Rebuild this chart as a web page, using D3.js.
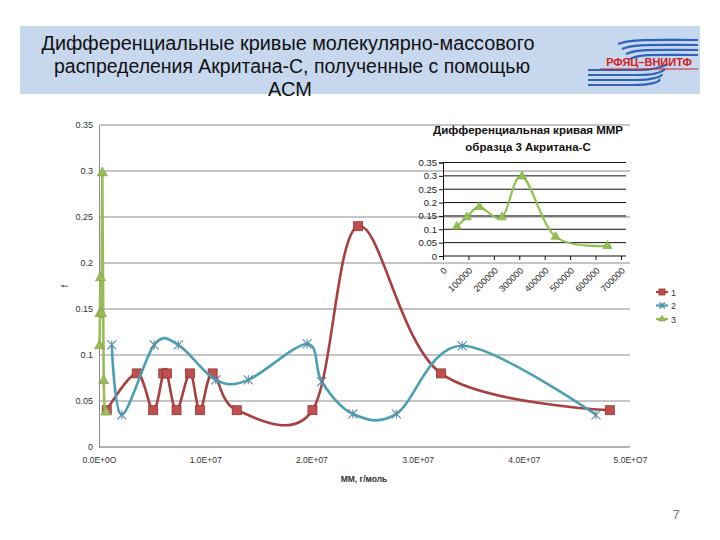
<!DOCTYPE html>
<html>
<head>
<meta charset="utf-8">
<script src="https://cdn.jsdelivr.net/npm/d3@7"></script>
<style>
  body { margin: 0; background: #fff; }
  text { font-family: "Liberation Sans", Arial, sans-serif; }
</style>
</head>
<body>
<div id="canvas"></div>
<script>
// series 1 (red squares)
const s1x = [0.73e6, 3.55e6, 5.1e6, 6.05e6, 6.4e6, 7.3e6, 8.57e6, 9.5e6, 10.7e6, 12.97e6, 20.1e6, 24.4e6, 32.2e6, 48.1e6];
const s1y = [0.04, 0.08, 0.04, 0.08, 0.08, 0.04, 0.08, 0.04, 0.08, 0.04, 0.04, 0.24, 0.08, 0.04];
// series 2 (teal crosses)
const s2x = [1.2e6, 2.14e6, 5.2e6, 7.47e6, 11e6, 14.06e6, 19.6e6, 20.97e6, 23.9e6, 28e6, 34.2e6, 46.8e6];
const s2y = [0.111, 0.035, 0.111, 0.111, 0.073, 0.073, 0.112, 0.071, 0.036, 0.036, 0.11, 0.035];
// series 3 (green triangles), also shown in the inset
const s3x = [54000, 94000, 143000, 232000, 311000, 443000, 647000];
const s3y = [0.11, 0.145, 0.184, 0.145, 0.298, 0.072, 0.038];

const seriesNames = ["1", "2", "3"];
const xTicks = [0, 1e7, 2e7, 3e7, 4e7, 5e7];
const xTickLabels = ["0.0E+0O", "1.0E+07", "2.0E+07", "3.0E+07", "4.0E+07", "5.0E+O7"];
const yTicks = [0, 0.05, 0.1, 0.15, 0.2, 0.25, 0.3, 0.35];
const yTickLabels = ["0", "0.05", "0.1", "0.15", "0.2", "0.25", "0.3", "0.35"];
const insetXTicks = [0, 100000, 200000, 300000, 400000, 500000, 600000, 700000];

const titleLines = ["Дифференциальные кривые молекулярно-массового",
                    "распределения Акритана-С, полученные с помощью",
                    "АСМ"];
const insetTitle = ["Дифференциальная кривая ММР", "образца 3 Акритана-С"];

const width = 720, height = 540;
const svg = d3.select("#canvas").append("svg")
  .attr("width", width).attr("height", height);
svg.append("rect").attr("width", width).attr("height", height).attr("fill", "#fff");

// header band
svg.append("rect").attr("x", 20).attr("y", 26).attr("width", 680).attr("height", 68)
  .attr("fill", "#c6d7ee");
const tl = svg.append("g");
[[titleLines[0], 288, 50, 493], [titleLines[1], 292, 73, 476], [titleLines[2], 290, 96, 0]].forEach(([t, x, y, w]) => {
  const el = tl.append("text").attr("x", x).attr("y", y).attr("text-anchor", "middle")
    .attr("font-size", 20).attr("fill", "#111").text(t);
  if (w) el.attr("textLength", w).attr("lengthAdjust", "spacingAndGlyphs");
});

// logo
const logo = svg.append("g").attr("fill", "none").attr("stroke", "#2d63b8").attr("stroke-width", 2.2);
[40, 45, 50, 55].forEach((y, i) => {
  logo.append("path").attr("d", `M${618 + i * 4},${y + 4} C${630 + i * 3},${y - 1} ${650},${y} ${698},${y}`);
});
[70, 75, 80, 85].forEach((y, i) => {
  logo.append("path").attr("d", `M588,${y} L${640 - i * 2},${y} C${655 - i * 2},${y} ${662},${y - 3} ${668 - i * 3},${y - 6}`);
});
svg.append("text").attr("x", 649).attr("y", 66).attr("text-anchor", "middle")
  .attr("font-size", 11).attr("font-weight", "bold").attr("fill", "#d42020").text("РФЯЦ–ВНИИТФ");
svg.append("line").attr("x1", 600).attr("x2", 698).attr("y1", 69).attr("y2", 69)
  .attr("stroke", "#d42020").attr("stroke-width", 1);

// main chart
const x = d3.scaleLinear().domain([0, 5e7]).range([99, 630]);
const y = d3.scaleLinear().domain([0, 0.35]).range([447, 125]);

const g = svg.append("g");
g.selectAll("line.grid").data(yTicks).enter().append("line")
  .attr("class", "grid")
  .attr("x1", 99).attr("x2", 630)
  .attr("y1", d => y(d)).attr("y2", d => y(d))
  .attr("stroke", d => d === 0 ? "#9a9a9a" : "#8c8c8c").attr("stroke-width", d => d === 0 ? 1.6 : 1);

const yAxis = g.append("g").attr("transform", "translate(99,0)")
  .call(d3.axisLeft(y).tickValues(yTicks).tickSize(0).tickPadding(6)
    .tickFormat((d, i) => yTickLabels[i]));
yAxis.select(".domain").attr("stroke", "#8c8c8c");
yAxis.selectAll("text").attr("font-size", 9).attr("fill", "#333")
  .attr("font-family", "'Open Sans', sans-serif");

const xAxis = g.append("g").attr("transform", "translate(0,447)")
  .call(d3.axisBottom(x).tickValues(xTicks).tickSize(0).tickPadding(10)
    .tickFormat((d, i) => xTickLabels[i]));
xAxis.select(".domain").remove();
xAxis.selectAll("text").attr("font-size", 8.5).attr("fill", "#333")
  .attr("font-family", "'Open Sans', sans-serif");

svg.append("text").attr("x", 364).attr("y", 482).attr("text-anchor", "middle")
  .attr("font-size", 8.5).attr("font-weight", "bold").attr("fill", "#333")
  .attr("font-family", "'Open Sans', sans-serif").text("ММ, г/моль");
svg.append("text").attr("transform", "translate(68,286) rotate(-90)").attr("text-anchor", "middle")
  .attr("font-size", 9).attr("fill", "#333").text("f");

const curve = d3.curveCardinal.tension(0);
const styles = [
  { xs: s1x, ys: s1y, line: "#a8403f", fill: "#c0504d", stroke: "#8e3533", shape: "square" },
  { xs: s2x, ys: s2y, line: "#4aa0b2", fill: "none", stroke: "#5a8aa8", shape: "cross" },
  { xs: s3x, ys: s3y, line: "#9bbb59", fill: "#9bbb59", stroke: "#7c9a42", shape: "triangle" }
];

function marker(sel, s, px, py, size) {
  if (s.shape === "square") {
    sel.append("rect").attr("x", px - size / 2).attr("y", py - size / 2)
      .attr("width", size).attr("height", size)
      .attr("fill", s.fill).attr("stroke", s.stroke).attr("stroke-width", 0.8);
  } else if (s.shape === "cross") {
    const h = size / 2;
    sel.append("path")
      .attr("d", `M${px - h},${py - h}L${px + h},${py + h}M${px - h},${py + h}L${px + h},${py - h}M${px},${py - h}L${px},${py + h}`)
      .attr("stroke", s.stroke).attr("stroke-width", 1.1).attr("fill", "none");
  } else {
    sel.append("path")
      .attr("d", d3.symbol().type(d3.symbolTriangle).size(size * size * 0.55)())
      .attr("transform", `translate(${px},${py})`)
      .attr("fill", s.fill).attr("stroke", s.stroke).attr("stroke-width", 0.6);
  }
}

styles.forEach(s => {
  const pts = s.xs.map((v, i) => [v, s.ys[i]]);
  g.append("path").datum(pts)
    .attr("d", d3.line().x(d => x(d[0])).y(d => y(d[1])).curve(curve))
    .attr("fill", "none").attr("stroke", s.line).attr("stroke-width", 2.6);
  const mg = g.append("g");
  pts.forEach(p => marker(mg, s, x(p[0]), y(p[1]), 9));
});

// legend
styles.forEach((s, i) => {
  const ly = 292 + i * 13.5;
  svg.append("line").attr("x1", 656).attr("x2", 668).attr("y1", ly).attr("y2", ly)
    .attr("stroke", s.line).attr("stroke-width", 2.2);
  marker(svg, s, 662, ly, 6);
  svg.append("text").attr("x", 671).attr("y", ly + 3.5).attr("font-size", 9).attr("fill", "#333")
    .attr("font-family", "'Open Sans', sans-serif").text(seriesNames[i]);
});

// inset chart
const ix = d3.scaleLinear().domain([0, 700000]).range([443, 621]);
const iy = d3.scaleLinear().domain([0, 0.35]).range([256, 162.5]);
const ig = svg.append("g");
ig.selectAll("line.igrid").data(yTicks.slice(1)).enter().append("line")
  .attr("x1", 443).attr("x2", 626)
  .attr("y1", d => iy(d)).attr("y2", d => iy(d))
  .attr("stroke", "#111").attr("stroke-width", 1);
const iyAxis = ig.append("g").attr("transform", "translate(443,0)")
  .call(d3.axisLeft(iy).tickValues(yTicks).tickSize(4).tickPadding(2)
    .tickFormat((d, i) => yTickLabels[i]));
iyAxis.selectAll("path,line").attr("stroke", "#111");
iyAxis.selectAll("text").attr("font-size", 9.5).attr("fill", "#222")
  .attr("font-family", "'Liberation Serif', serif");
const ixAxis = ig.append("g").attr("transform", "translate(0,256)")
  .call(d3.axisBottom(ix).tickValues(insetXTicks).tickSize(4).tickFormat(d3.format("d")));
ixAxis.select(".domain").attr("d", "M443,0H626");
ixAxis.selectAll("path,line").attr("stroke", "#111");
ixAxis.selectAll("text").attr("font-size", 9).attr("fill", "#222")
  .attr("font-family", "'Liberation Serif', serif")
  .attr("text-anchor", "end").attr("transform", "translate(-3,8) rotate(-45)").attr("dy", "0.35em");

insetTitle.forEach((t, i) => {
  svg.append("text").attr("x", 528).attr("y", 134 + i * 17).attr("text-anchor", "middle")
    .attr("font-size", 11.5).attr("font-weight", "bold").attr("fill", "#111")
    .attr("font-family", "'Open Sans', sans-serif").text(t);
});

const ipts = s3x.map((v, i) => [v, s3y[i]]);
ig.append("path").datum(ipts)
  .attr("d", d3.line().x(d => ix(d[0])).y(d => iy(d[1])).curve(curve))
  .attr("fill", "none").attr("stroke", "#92c052").attr("stroke-width", 2.2);
const img = ig.append("g");
ipts.forEach(p => marker(img, { shape: "triangle", fill: "#92c052", stroke: "#79a43e" }, ix(p[0]), iy(p[1]), 8));

// page number
svg.append("text").attr("x", 676).attr("y", 519).attr("text-anchor", "middle")
  .attr("font-size", 13).attr("fill", "#777").text("7");
</script>
</body>
</html>
